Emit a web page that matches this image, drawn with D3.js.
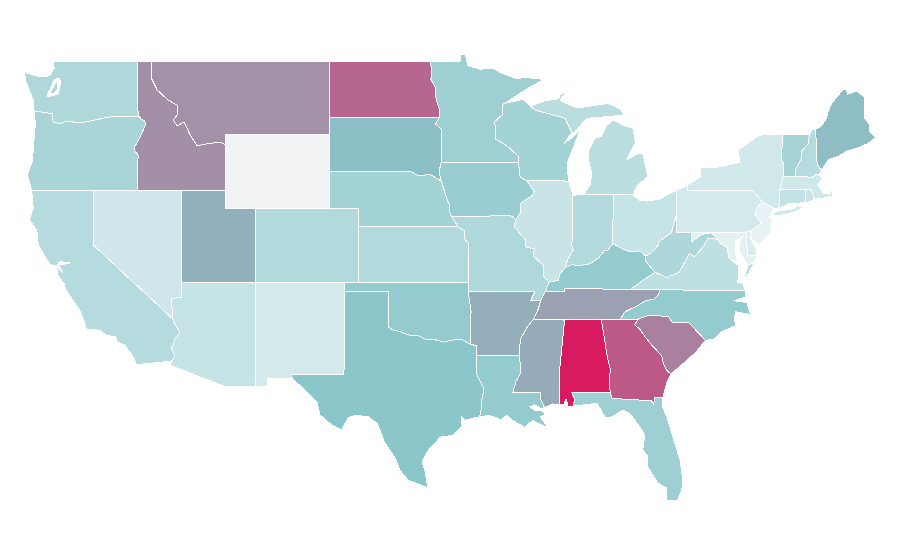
<!DOCTYPE html>
<html>
<head>
<meta charset="utf-8">
<script src="https://cdn.jsdelivr.net/npm/d3@7"></script>
<style>html,body{margin:0;padding:0;background:#fff}svg{display:block}</style>
</head>
<body>
<svg id="map" width="900" height="560"></svg>
<script>
const stateNames = ["Washington","Oregon","California","Nevada","Idaho","Montana","Wyoming","Utah","Colorado","Arizona","New Mexico","North Dakota","South Dakota","Nebraska","Kansas","Oklahoma","Texas","Minnesota","Iowa","Missouri","Arkansas","Louisiana","Wisconsin","Illinois","Michigan","Indiana","Ohio","Kentucky","Tennessee","Mississippi","Alabama","Georgia","Florida","South Carolina","North Carolina","Virginia","West Virginia","Maryland","Delaware","Pennsylvania","New Jersey","New York","Connecticut","Rhode Island","Massachusetts","Vermont","New Hampshire","Maine"];
const stateValues = [32,35,29,17,66,65.5,null,56,31,21,15,78,52,37.5,31,45,50,41,43,32,57,45,37.5,20,27,31,21,45.5,61,58,100,82,41,70.5,45,24.5,33,7,12,15,6,16,22,20,16,37,29,52.6];
const colorDomain = [0,50,100];
const colorRange = ["#f2f8fa","#8ac6ca","#d81b60"];
const noDataColor = "#f2f3f5";
const lonDomain = [-120,-109.05];
const xRange = [93.7,255.3];
const latDomain = [49,25.84];
const yRange = [61,488];

const stateRings = {
"Washington":[[[-117.03,49],[-122.76,49],[-122.68,48.6],[-122.9,48.3],[-123.1,48.17],[-123.7,48.15],[-124.7,48.38],[-124.6,47.9],[-124.3,47.3],[-124.1,46.9],[-124.05,46.3],[-123.5,46.22],[-122.82,46.15],[-122.75,45.69],[-122.28,45.6],[-121.87,45.75],[-120.93,45.64],[-119.9,45.8],[-119.03,45.96],[-116.92,46],[-117.04,46.42]],[[-122.96,47.43],[-122.69,47.97],[-122.35,48.08],[-122.21,47.86],[-122.42,47.2],[-123.16,47.05],[-123.1,47.25]],[[-122.95,47.3],[-122.5,47.9],[-122.42,47.45],[-122.8,47.2]]],
"Oregon":[[[-124.05,46.3],[-123.5,46.22],[-122.82,46.15],[-122.75,45.69],[-122.28,45.6],[-121.87,45.75],[-120.93,45.64],[-119.9,45.8],[-119.03,45.96],[-116.92,46],[-116.78,45.85],[-116.55,45.75],[-116.46,45.6],[-116.73,45.1],[-117.06,44.55],[-117.27,44.33],[-117.2,44.1],[-116.93,43.85],[-117.03,43.6],[-117.03,42],[-124.2,42],[-124.5,42.85],[-124.15,43.6],[-124.05,44.7],[-123.95,45.6]]],
"California":[[[-124.2,42],[-120,42],[-120,39],[-114.63,35],[-114.55,34.8],[-114.15,34.25],[-114.45,34],[-114.72,33.4],[-114.5,33],[-114.72,32.72],[-117.12,32.53],[-117.25,32.85],[-117.9,33.6],[-118.4,33.75],[-118.5,34.03],[-119.2,34.15],[-119.6,34.4],[-120.5,34.45],[-120.65,34.9],[-120.9,35.4],[-121.9,36.6],[-122,36.95],[-122.4,37.3],[-122.5,37.8],[-122.42,37.82],[-122.1,37.5],[-122.35,37.92],[-121.6,38.05],[-122.3,38.12],[-122.5,37.92],[-122.7,37.9],[-123,38],[-123.75,39],[-123.85,39.8],[-124.35,40.4],[-124.1,41]]],
"Nevada":[[[-120,42],[-114.04,42],[-114.05,36.2],[-114.75,36.1],[-114.63,35],[-120,39]]],
"Idaho":[[[-117.03,49],[-116.05,49],[-116.05,48],[-115.7,47.43],[-114.96,46.88],[-114.35,46.6],[-114.35,46.07],[-114.6,45.8],[-114.35,45.47],[-113.88,45.7],[-113.47,45],[-113,44.4],[-112.4,44.5],[-111.45,44.6],[-111.05,44.45],[-111.05,42],[-117.03,42],[-117.03,43.6],[-116.93,43.85],[-117.2,44.1],[-117.27,44.33],[-117.06,44.55],[-116.73,45.1],[-116.46,45.6],[-116.55,45.75],[-116.78,45.85],[-116.92,46],[-117.04,46.42]]],
"Montana":[[[-116.05,49],[-104.05,49],[-104.05,45],[-111.05,45],[-111.05,44.45],[-111.45,44.6],[-112.4,44.5],[-113,44.4],[-113.47,45],[-113.88,45.7],[-114.35,45.47],[-114.6,45.8],[-114.35,46.07],[-114.35,46.6],[-114.96,46.88],[-115.7,47.43],[-116.05,48]]],
"Wyoming":[[[-111.05,45],[-104.05,45],[-104.05,41],[-111.05,41]]],
"Utah":[[[-114.04,42],[-111.05,42],[-111.05,41],[-109.05,41],[-109.05,37],[-114.05,37]]],
"Colorado":[[[-109.05,41],[-102.05,41],[-102.04,37],[-109.05,37]]],
"Arizona":[[[-114.05,37],[-109.05,37],[-109.05,31.33],[-111.07,31.33],[-114.82,32.5],[-114.72,32.72],[-114.5,33],[-114.72,33.4],[-114.45,34],[-114.15,34.25],[-114.55,34.8],[-114.63,35],[-114.75,36.1],[-114.05,36.2]]],
"New Mexico":[[[-109.05,37],[-103,37],[-103.04,32],[-106.62,32],[-106.53,31.78],[-108.2,31.78],[-108.2,31.33],[-109.05,31.33]]],
"North Dakota":[[[-104.05,49],[-97.23,49],[-97.1,48.6],[-97.15,48],[-96.85,47.55],[-96.8,46.95],[-96.55,46.3],[-96.56,45.94],[-104.05,45.94]]],
"South Dakota":[[[-104.05,45.94],[-96.56,45.94],[-96.85,45.6],[-96.45,45.3],[-96.45,43.5],[-96.6,43],[-96.45,42.49],[-97.2,42.85],[-98,42.77],[-98.5,43],[-104.05,43]]],
"Nebraska":[[[-104.05,43],[-98.5,43],[-98,42.77],[-97.2,42.85],[-96.45,42.49],[-96.25,42],[-96.1,41.6],[-95.9,41.2],[-95.85,40.7],[-95.31,40],[-102.05,40],[-102.05,41],[-104.05,41]]],
"Kansas":[[[-102.05,40],[-95.31,40],[-94.9,39.8],[-94.9,39.4],[-94.6,39.1],[-94.62,37],[-102.04,37]]],
"Oklahoma":[[[-103,37],[-94.62,37],[-94.43,35.4],[-94.48,33.64],[-95,33.88],[-95.5,33.9],[-96.3,33.75],[-96.9,33.9],[-97.5,33.9],[-98,34.1],[-98.5,34.1],[-99.2,34.3],[-99.7,34.4],[-100,34.56],[-100,36.5],[-103,36.5]]],
"Texas":[[[-103,36.5],[-100,36.5],[-100,34.56],[-99.7,34.4],[-99.2,34.3],[-98.5,34.1],[-98,34.1],[-97.5,33.9],[-96.9,33.9],[-96.3,33.75],[-95.5,33.9],[-95,33.88],[-94.48,33.64],[-94.04,33.55],[-94.04,33.02],[-94.04,31.99],[-93.55,31.2],[-93.7,30.6],[-93.75,30.1],[-93.85,29.7],[-94.84,29.52],[-95.07,29.7],[-95.07,29.14],[-95.66,28.7],[-96.54,28.6],[-96.87,28.27],[-97.42,27.8],[-97.76,27.25],[-97.56,26.8],[-97.35,25.84],[-98.7,26.27],[-99.25,26.8],[-99.6,27.5],[-100.26,28.27],[-100.8,29.36],[-101.4,29.7],[-102.3,29.8],[-102.77,29.63],[-103.2,29],[-103.85,29.25],[-104.67,29.8],[-104.87,30.5],[-105.9,31.3],[-106.53,31.78],[-106.62,32],[-103.04,32]]],
"Minnesota":[[[-97.23,49],[-95.15,49],[-95.15,49.38],[-94.8,49.33],[-94.65,48.75],[-93.8,48.55],[-92.95,48.62],[-92.5,48.4],[-91.4,48.05],[-90.75,48.1],[-89.5,48],[-90.5,47.55],[-91.5,47.05],[-92.05,46.75],[-92.3,46.65],[-92.3,46.1],[-92.85,45.7],[-92.75,45.3],[-92.75,44.75],[-92,44.4],[-91.25,43.85],[-91.22,43.5],[-96.45,43.5],[-96.45,45.3],[-96.85,45.6],[-96.56,45.94],[-96.55,46.3],[-96.8,46.95],[-96.85,47.55],[-97.15,48],[-97.1,48.6]]],
"Iowa":[[[-96.45,43.5],[-91.22,43.5],[-91.1,42.7],[-90.65,42.5],[-90.15,41.9],[-90.3,41.7],[-91.05,41.3],[-91.1,40.75],[-91.4,40.4],[-91.73,40.6],[-95.77,40.58],[-95.85,40.7],[-95.9,41.2],[-96.1,41.6],[-96.25,42],[-96.45,42.49],[-96.6,43]]],
"Missouri":[[[-95.77,40.58],[-91.73,40.6],[-91.4,40.4],[-91.5,40],[-90.75,39.3],[-90.7,38.9],[-90.15,38.8],[-90.2,38.4],[-89.5,37.9],[-89.5,37.3],[-89.15,37],[-89.4,36.5],[-89.7,36],[-90.4,36],[-90.1,36.5],[-94.62,36.5],[-94.62,37],[-94.6,39.1],[-94.9,39.4],[-94.9,39.8],[-95.31,40],[-95.85,40.7]]],
"Arkansas":[[[-94.62,36.5],[-90.1,36.5],[-90.4,36],[-89.7,36],[-89.9,35.5],[-90.2,35],[-90.6,34.6],[-91.1,33.9],[-91.15,33],[-94.04,33.02],[-94.04,33.55],[-94.48,33.64],[-94.43,35.4]]],
"Louisiana":[[[-94.04,33.02],[-91.15,33],[-91.05,32.1],[-91.4,31.6],[-91.6,31],[-89.73,31],[-89.7,30.65],[-89.45,30.2],[-89.7,30.15],[-90.1,30.35],[-90.45,30.25],[-90.1,30.05],[-89.6,30.05],[-89.4,29.8],[-89.75,29.7],[-89.2,29.08],[-89.7,29.3],[-90.26,29.5],[-90.8,29.14],[-91.6,29.5],[-91.99,29.8],[-92.4,29.55],[-93.2,29.78],[-93.85,29.7],[-93.75,30.1],[-93.7,30.6],[-93.55,31.2],[-94.04,31.99]]],
"Wisconsin":[[[-92.3,46.65],[-92.05,46.72],[-91,46.9],[-90.8,46.85],[-90.4,46.55],[-90.1,46.34],[-88.07,45.9],[-87.73,45.35],[-87.6,45.1],[-87.75,44.95],[-88.1,44.55],[-87.5,44.9],[-87.05,45.25],[-87.5,44.3],[-87.9,43.5],[-87.9,43],[-87.8,42.49],[-90.65,42.5],[-91.1,42.7],[-91.22,43.5],[-91.25,43.85],[-92,44.4],[-92.75,44.75],[-92.75,45.3],[-92.85,45.7],[-92.3,46.1]]],
"Illinois":[[[-90.65,42.5],[-87.8,42.49],[-87.53,41.7],[-87.53,39.35],[-87.65,39.1],[-87.5,38.75],[-87.9,38.2],[-88.05,37.8],[-88.45,37.4],[-88.5,37.1],[-89.15,37],[-89.5,37.3],[-89.5,37.9],[-90.2,38.4],[-90.15,38.8],[-90.7,38.9],[-90.75,39.3],[-91.5,40],[-91.4,40.4],[-91.1,40.75],[-91.05,41.3],[-90.3,41.7],[-90.15,41.9]]],
"Michigan":[[[-86.8,41.76],[-84.8,41.76],[-83.45,41.73],[-83.2,42.2],[-82.5,42.7],[-82.5,42.9],[-82.8,44],[-83.2,43.95],[-83.9,43.63],[-83.3,44.55],[-83.45,45.35],[-84.1,45.5],[-84.8,45.8],[-85.25,45.5],[-85.6,44.9],[-86.05,44.8],[-86.5,44.1],[-86.5,43.7],[-86.25,42.9],[-86.35,42.3]],[[-90.4,46.55],[-89.4,46.85],[-88.5,46.95],[-88.4,47.15],[-87.8,47.42],[-88.3,47],[-88.4,46.85],[-87.25,46.45],[-85.9,46.6],[-85.15,46.7],[-84.3,46.4],[-84.1,46.07],[-84.9,46],[-86.4,45.9],[-86.7,45.8],[-87.4,45.15],[-87.6,45.1],[-87.73,45.35],[-88.07,45.9],[-90.1,46.34]],[[-89.2,47.85],[-88.5,48.15],[-88.9,47.95]]],
"Indiana":[[[-87.53,41.7],[-87.2,41.75],[-86.8,41.76],[-84.8,41.76],[-84.82,39.1],[-85.2,38.7],[-85.4,38.7],[-85.8,38.3],[-86.4,38],[-87.05,37.9],[-87.6,37.95],[-88.05,37.8],[-87.9,38.2],[-87.5,38.75],[-87.65,39.1],[-87.53,39.35]]],
"Ohio":[[[-84.8,41.76],[-83.45,41.73],[-83,41.45],[-82.5,41.4],[-81.7,41.5],[-80.52,41.98],[-80.52,40.64],[-80.65,40.3],[-80.85,39.7],[-81.7,39.2],[-81.75,39],[-82.2,38.6],[-82.6,38.42],[-83,38.7],[-83.7,38.65],[-84.25,38.85],[-84.82,39.1]]],
"Kentucky":[[[-89.4,36.5],[-89.15,37],[-88.5,37.1],[-88.45,37.4],[-88.05,37.8],[-87.6,37.95],[-87.05,37.9],[-86.4,38],[-85.8,38.3],[-85.4,38.7],[-85.2,38.7],[-84.82,39.1],[-84.25,38.85],[-83.7,38.65],[-83,38.7],[-82.6,38.42],[-82.6,38.15],[-81.97,37.54],[-82.7,37.15],[-83.67,36.6],[-88.07,36.68],[-88.07,36.5]]],
"Tennessee":[[[-89.4,36.5],[-88.07,36.5],[-88.07,36.68],[-83.67,36.6],[-81.68,36.59],[-81.7,36.35],[-82,36.1],[-82.6,36],[-83.1,35.75],[-84,35.4],[-84.32,35],[-88.2,35],[-90.2,35],[-89.9,35.5],[-89.7,36]]],
"Mississippi":[[[-90.2,35],[-88.2,35],[-88.1,34.9],[-88.47,31.9],[-88.4,30.35],[-88.9,30.4],[-89.45,30.2],[-89.7,30.65],[-89.73,31],[-91.6,31],[-91.4,31.6],[-91.05,32.1],[-91.15,33],[-91.1,33.9],[-90.6,34.6]]],
"Alabama":[[[-88.2,35],[-85.6,34.98],[-85.18,32.87],[-85,32.3],[-85.05,31.55],[-85,31],[-87.6,31],[-87.4,30.65],[-87.52,30.28],[-87.9,30.25],[-87.95,30.65],[-88.05,30.65],[-88.1,30.35],[-88.4,30.35],[-88.47,31.9],[-88.1,34.9]]],
"Georgia":[[[-85.6,34.98],[-83.1,35],[-83.35,34.7],[-83,34.45],[-82.6,34],[-82.2,33.6],[-81.85,33.3],[-81.5,33],[-81.4,32.6],[-81.15,32.2],[-80.88,32.03],[-81.15,31.6],[-81.45,30.72],[-82,30.75],[-82.05,30.36],[-82.2,30.57],[-84.86,30.7],[-85,31],[-85.05,31.55],[-85,32.3],[-85.18,32.87]]],
"Florida":[[[-87.6,31],[-85,31],[-84.86,30.7],[-82.2,30.57],[-82.05,30.36],[-82,30.75],[-81.45,30.72],[-81.43,30.2],[-81.16,29.7],[-80.75,28.6],[-80.27,27.35],[-80.07,26.27],[-80.15,25.73],[-80.47,25.15],[-81.16,25.15],[-81.16,25.84],[-81.77,26.1],[-82.45,26.97],[-82.5,27.6],[-82.8,27.9],[-82.65,28.7],[-82.99,29.14],[-83.7,29.9],[-84.14,30.06],[-85,29.65],[-85.36,29.68],[-85.9,30.44],[-86.4,30.38],[-87.52,30.28],[-87.4,30.65]]],
"South Carolina":[[[-83.35,34.7],[-83.1,35],[-82.4,35.2],[-81.05,35.15],[-80.8,34.82],[-79.67,34.8],[-78.55,33.85],[-79.2,33.2],[-79.9,32.7],[-80.88,32.03],[-81.15,32.2],[-81.4,32.6],[-81.5,33],[-81.85,33.3],[-82.2,33.6],[-82.6,34],[-83,34.45]]],
"North Carolina":[[[-84.32,35],[-84,35.4],[-83.1,35.75],[-82.6,36],[-82,36.1],[-81.7,36.35],[-81.68,36.59],[-75.87,36.55],[-75.85,36.2],[-76.6,36],[-75.75,35.9],[-75.5,35.25],[-76.5,35.4],[-76.6,35.05],[-76.5,34.65],[-77.5,34.3],[-77.95,33.9],[-78.55,33.85],[-79.67,34.8],[-80.8,34.82],[-81.05,35.15],[-82.4,35.2],[-83.1,35]]],
"Virginia":[[[-83.67,36.6],[-81.68,36.59],[-75.87,36.55],[-76,36.93],[-76.35,37],[-76.3,37.55],[-76.3,37.9],[-76.95,38.3],[-77.05,38.7],[-77.05,38.85],[-77.5,39.1],[-77.72,39.32],[-78.35,39.4],[-78.87,38.75],[-79.3,38.4],[-79.65,38.55],[-80.3,37.55],[-81.2,37.25],[-81.97,37.54],[-82.7,37.15]],[[-75.95,37.15],[-75.65,37.95],[-75.25,38.03],[-75.6,37.5]]],
"West Virginia":[[[-82.6,38.42],[-82.6,38.15],[-81.97,37.54],[-81.2,37.25],[-80.3,37.55],[-79.65,38.55],[-79.3,38.4],[-78.87,38.75],[-78.35,39.4],[-77.72,39.32],[-78.2,39.68],[-78.8,39.6],[-79.48,39.2],[-79.48,39.72],[-80.52,39.72],[-80.52,40.64],[-80.65,40.3],[-80.85,39.7],[-81.7,39.2],[-81.75,39],[-82.2,38.6]]],
"Maryland":[[[-79.48,39.72],[-75.79,39.72],[-75.7,38.46],[-75.05,38.45],[-75.25,38.03],[-75.65,37.95],[-75.9,38.2],[-76.2,38.6],[-76.25,39.1],[-76.05,39.5],[-76.5,39.2],[-76.5,38.5],[-76.32,38.05],[-76.95,38.3],[-77.05,38.7],[-77.05,38.85],[-77.5,39.1],[-77.72,39.32],[-78.2,39.68],[-78.8,39.6],[-79.48,39.2]]],
"Delaware":[[[-75.79,39.72],[-75.42,39.8],[-75.55,39.45],[-75.1,38.8],[-75.05,38.45],[-75.7,38.46]]],
"Pennsylvania":[[[-80.52,41.98],[-79.76,42.27],[-79.76,42],[-75.35,42],[-74.7,41.36],[-75.1,41],[-75.2,40.7],[-74.75,40.2],[-75.42,39.8],[-75.79,39.72],[-80.52,39.72]]],
"New Jersey":[[[-74.7,41.36],[-73.9,41],[-74.25,40.5],[-74,40.45],[-74.05,40.26],[-74.1,39.75],[-74.9,38.98],[-75.55,39.45],[-75.42,39.8],[-74.75,40.2],[-75.2,40.7],[-75.1,41]]],
"New York":[[[-79.76,42.27],[-78.9,42.7],[-78.9,43.2],[-77.7,43.25],[-76.2,43.5],[-76.35,44.15],[-75.07,44.88],[-74.7,45],[-73.35,45],[-73.35,44.5],[-73.4,43.6],[-73.25,43.5],[-73.28,42.75],[-73.5,42.05],[-73.5,41.3],[-73.65,41],[-73.9,41],[-74.7,41.36],[-75.35,42],[-79.76,42]],[[-74,40.6],[-73.75,40.85],[-72.6,40.98],[-72.3,41.15],[-71.9,41.07],[-72.5,40.82],[-73.5,40.6]]],
"Connecticut":[[[-73.5,42.05],[-71.8,42.02],[-71.8,41.32],[-72.9,41.25],[-73.65,41],[-73.5,41.3]]],
"Rhode Island":[[[-71.8,42.02],[-71.38,42.02],[-71.15,41.5],[-71.5,41.37],[-71.8,41.32]]],
"Massachusetts":[[[-73.5,42.05],[-73.28,42.75],[-72.46,42.73],[-71.3,42.7],[-71,42.87],[-70.6,42.65],[-70.95,42.3],[-70.65,41.95],[-70.55,41.8],[-70.05,41.8],[-70.2,42.07],[-69.95,41.9],[-69.95,41.67],[-70.65,41.55],[-71.15,41.5],[-71.38,42.02],[-71.8,42.02]],[[-70.8,41.35],[-70.5,41.4],[-70.6,41.33]],[[-70.25,41.28],[-69.98,41.28],[-70.1,41.24]]],
"Vermont":[[[-73.35,45],[-71.5,45.01],[-71.6,44.5],[-72.05,44.1],[-72.05,43.7],[-72.45,43.1],[-72.46,42.73],[-73.28,42.75],[-73.25,43.5],[-73.4,43.6],[-73.35,44.5]]],
"New Hampshire":[[[-71.5,45.01],[-71.3,45.3],[-71.08,45.3],[-70.98,43.4],[-70.7,43.07],[-70.8,42.87],[-71,42.87],[-71.3,42.7],[-72.46,42.73],[-72.45,43.1],[-72.05,43.7],[-72.05,44.1],[-71.6,44.5]]],
"Maine":[[[-71.08,45.3],[-70.8,45.4],[-70.4,45.8],[-70.25,46.2],[-70,46.7],[-69.23,47.45],[-69,47.45],[-68.9,47.2],[-68.3,47.36],[-67.8,47.07],[-67.78,45.9],[-67.45,45.6],[-67.45,45.2],[-67,44.85],[-67.6,44.5],[-68.2,44.3],[-68.6,44.2],[-69,44.1],[-69.5,43.85],[-70.2,43.65],[-70.7,43.07],[-70.98,43.4]]]
};

const x = d3.scaleLinear().domain(lonDomain).range(xRange);
const y = d3.scaleLinear().domain(latDomain).range(yRange);
const color = d3.scaleLinear().domain(colorDomain).range(colorRange);
const path = d3.geoPath(d3.geoTransform({
  point(lon, lat) { this.stream.point(x(lon), y(lat)); }
}));
const features = stateNames.map((name, i) => ({
  type: "Feature",
  properties: { name, value: stateValues[i] },
  geometry: { type: "MultiPolygon", coordinates: stateRings[name].map(r => [r.concat([r[0]])]) }
}));
d3.select("#map").selectAll("path").data(features).join("path")
  .attr("d", path)
  .attr("fill", d => d.properties.value === null ? noDataColor : color(d.properties.value))
  .attr("fill-rule", "evenodd")
  .attr("stroke", "#fff")
  .attr("stroke-width", 1)
  .attr("stroke-linejoin", "round")
  .attr("shape-rendering", "crispEdges")
  .append("title").text(d => d.properties.name);
</script>
</body>
</html>
